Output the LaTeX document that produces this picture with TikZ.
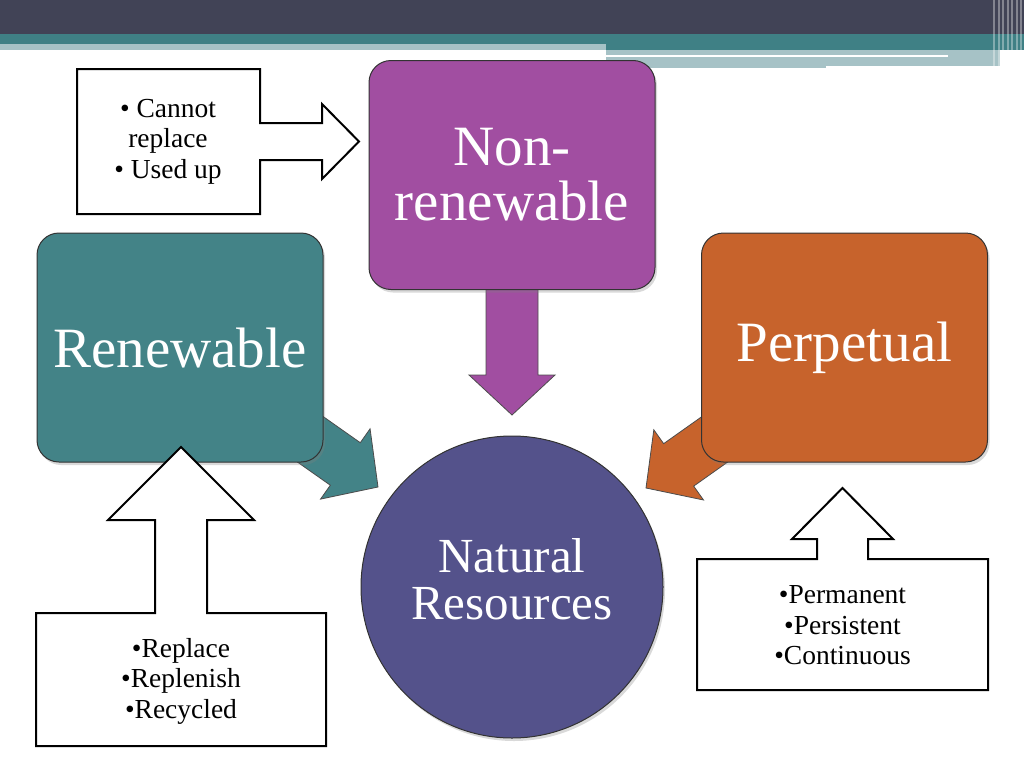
\documentclass[tikz,border=0pt]{standalone}
\usepackage{fontspec}
\setmainfont{Liberation Serif}
\usetikzlibrary{calc,shadows,backgrounds}
\definecolor{bandslate}{RGB}{65,67,86}
\definecolor{bandteal}{RGB}{63,128,133}
\definecolor{bandpale}{RGB}{166,194,198}
\definecolor{nonrenpurple}{RGB}{161,78,161}
\definecolor{renteal}{RGB}{67,131,135}
\definecolor{perporange}{RGB}{199,99,44}
\definecolor{natblue}{RGB}{84,82,139}
\tikzset{
  resbox/.style={rounded corners=22pt, draw=black!80, line width=1pt, text=white,
    align=center, minimum width=286pt, minimum height=229pt,
    font=\fontsize{57}{55}\selectfont,
    drop shadow={opacity=0.3, shadow xshift=2pt, shadow yshift=-3pt}},
  callout/.style={draw=black, line width=2pt, fill=white, line join=miter},
  calltext/.style={align=center, font=\fontsize{27.5}{30.5}\selectfont},
}
% block arrow from #2 to #3, filled with #1
\newcommand{\blockarrow}[3]{%
  \coordinate (arrowbase) at ($(#3)!40pt!(#2)$);
  \filldraw[fill=#1, draw=black!70, line width=0.8pt]
    ($(#2)!26pt!90:(#3)$) -- ($(arrowbase)!26pt!-90:(#2)$) -- ($(arrowbase)!43pt!-90:(#2)$) -- (#3)
    -- ($(arrowbase)!43pt!90:(#2)$) -- ($(arrowbase)!26pt!90:(#2)$) -- ($(#2)!26pt!-90:(#3)$) -- cycle;}

\begin{document}
\begin{tikzpicture}[x=1pt,y=-1pt]
\useasboundingbox (0,0) rectangle (1024,768);
% title band
\fill[bandslate] (0,0) rectangle (1024,34);
\fill[bandteal] (0,34) rectangle (1024,44);
\fill[bandpale] (0,44) rectangle (606,50);
\fill[bandteal] (606,44) rectangle (1024,50);
\fill[bandpale] (606,50) rectangle (1000,68);
\fill[white] (606,55) rectangle (948,57);
\fill[white] (826,66) rectangle (1000,68);
\foreach \sx in {994,999,1003,1008,1012,1017,1021}
  \draw[white,opacity=0.35,line width=1.2pt] (\sx,0) -- (\sx,68);

% main boxes
\node[resbox, fill=nonrenpurple] (nonren) at (512,175) {Non-\\renewable};
\node[resbox, fill=renteal] (renew) at (180,347.5) {Renewable};
\node[resbox, fill=perporange] (perp) at (844.5,347.5) {Perpetual};

% tips of the block arrows
\coordinate (nrtip) at (512,415);
\coordinate (rntip) at (378,487);
\coordinate (pptip) at (646,488);

% arrows into the circle, behind the boxes
\begin{scope}[on background layer]
\blockarrow{nonrenpurple}{nonren.center}{nrtip}
\blockarrow{renteal}{renew.center}{rntip}
\blockarrow{perporange}{perp.center}{pptip}
\end{scope}

\node[circle, draw=black!80, line width=1pt, fill=natblue, minimum size=302pt,
  drop shadow={opacity=0.3, shadow xshift=2pt, shadow yshift=-3pt}] (natres) at (512,587) {};
\node[text=white, align=center, font=\fontsize{49}{47}\selectfont] (natlabel)
  at ($(natres.center)+(0,-8)$) {Natural\\Resources};

% callouts
\filldraw[callout] (77,69) -- (260,69) -- (260,123) -- (322,123) -- (322,104) -- (359,141.5)
  -- (322,179) -- (322,160) -- (260,160) -- (260,214) -- (77,214) -- cycle;
\node[calltext] (nrnote) at (168,141.5) {• Cannot\\replace\\• Used up};

\filldraw[callout] (36,613) -- (155,613) -- (155,520) -- (108,520) -- (181,447) -- (254,520)
  -- (207,520) -- (207,613) -- (326,613) -- (326,746) -- (36,746) -- cycle;
\node[calltext] (rnnote) at (181,681) {•Replace\\•Replenish\\•Recycled};

\filldraw[callout] (697,559) -- (817,559) -- (817,539) -- (792,539) -- (842.5,488) -- (893,539)
  -- (868,539) -- (868,559) -- (988,559) -- (988,690) -- (697,690) -- cycle;
\node[calltext] (ppnote) at (842.5,625.5) {•Permanent\\•Persistent\\•Continuous};
\end{tikzpicture}
\end{document}
